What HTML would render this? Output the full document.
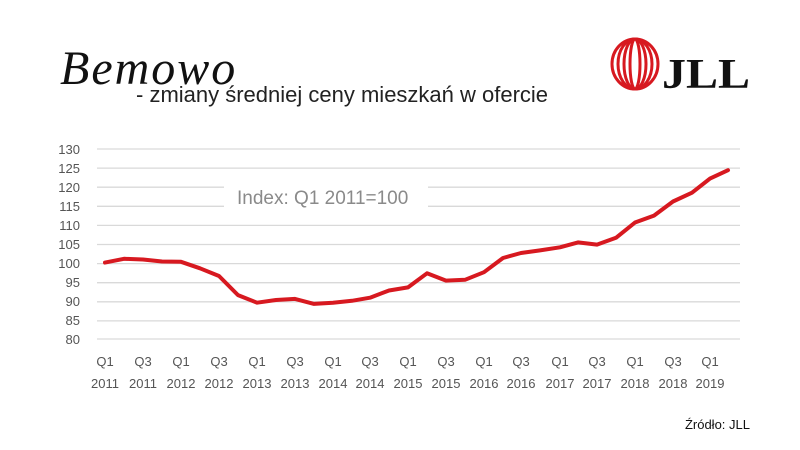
<!DOCTYPE html>
<html><head><meta charset="utf-8"><style>
html,body{margin:0;padding:0;background:#fff;width:800px;height:450px;overflow:hidden}
</style></head><body>
<svg width="800" height="450" xmlns="http://www.w3.org/2000/svg" font-family="Liberation Sans, sans-serif">
<text x="60" y="84" font-family="Liberation Serif, serif" font-style="italic" font-size="48" fill="#111" letter-spacing="2">Bemowo</text>
<text x="136" y="102" font-size="22" fill="#222">- zmiany średniej ceny mieszkań w ofercie</text>
<g fill="none" stroke="#d71920" stroke-width="3">
<ellipse cx="635" cy="64" rx="23" ry="25"/>
<ellipse cx="635" cy="64" rx="17" ry="25"/>
<ellipse cx="635" cy="64" rx="11" ry="25"/>
<ellipse cx="635" cy="64" rx="5" ry="25"/>
</g>
<text x="662" y="88" font-family="Liberation Serif, serif" font-weight="bold" font-size="42" fill="#111" textLength="88" lengthAdjust="spacingAndGlyphs">JLL</text>
<g stroke="#d9d9d9" stroke-width="1.3">
<line x1="97" x2="740" y1="149" y2="149"/><line x1="97" x2="740" y1="168.1" y2="168.1"/>
<line x1="97" x2="224" y1="187.2" y2="187.2"/><line x1="428" x2="740" y1="187.2" y2="187.2"/>
<line x1="97" x2="224" y1="206.3" y2="206.3"/><line x1="428" x2="740" y1="206.3" y2="206.3"/>
<line x1="97" x2="740" y1="225.4" y2="225.4"/><line x1="97" x2="740" y1="244.5" y2="244.5"/>
<line x1="97" x2="740" y1="263.6" y2="263.6"/><line x1="97" x2="740" y1="282.7" y2="282.7"/>
<line x1="97" x2="740" y1="301.8" y2="301.8"/><line x1="97" x2="740" y1="320.9" y2="320.9"/>
<line x1="97" x2="740" y1="339" y2="339"/>
</g>
<g font-size="13" fill="#555" text-anchor="end">
<text x="80" y="154">130</text><text x="80" y="173">125</text><text x="80" y="192">120</text>
<text x="80" y="211">115</text><text x="80" y="230">110</text><text x="80" y="249">105</text>
<text x="80" y="268">100</text><text x="80" y="287">95</text><text x="80" y="306">90</text>
<text x="80" y="325">85</text><text x="80" y="344">80</text>
</g>
<text x="237" y="204" font-size="19" fill="#8a8a8a">Index: Q1 2011=100</text>
<polyline fill="none" stroke="#d71920" stroke-width="4" stroke-linejoin="round" stroke-linecap="round"
points="105,262.6 124,258.8 143,259.5 162,261.5 181,261.8 200,268.3 219,276 238,295.1 257,302.7 276,300 295,298.9 314,303.9 333,302.7 352,300.8 370,297.7 389,290.5 408,287.4 427,273.3 446,280.6 465,279.8 484,272.2 503,258 521,253 540,250.4 560,247.3 578,242.4 597,244.6 616,237.8 635,222.5 654,215.6 673,201.5 692,192.7 710,178.6 728,170.2"/>
<g font-size="13" fill="#555" text-anchor="middle">
<text x="105" y="366">Q1</text><text x="105" y="388">2011</text>
<text x="143" y="366">Q3</text><text x="143" y="388">2011</text>
<text x="181" y="366">Q1</text><text x="181" y="388">2012</text>
<text x="219" y="366">Q3</text><text x="219" y="388">2012</text>
<text x="257" y="366">Q1</text><text x="257" y="388">2013</text>
<text x="295" y="366">Q3</text><text x="295" y="388">2013</text>
<text x="333" y="366">Q1</text><text x="333" y="388">2014</text>
<text x="370" y="366">Q3</text><text x="370" y="388">2014</text>
<text x="408" y="366">Q1</text><text x="408" y="388">2015</text>
<text x="446" y="366">Q3</text><text x="446" y="388">2015</text>
<text x="484" y="366">Q1</text><text x="484" y="388">2016</text>
<text x="521" y="366">Q3</text><text x="521" y="388">2016</text>
<text x="560" y="366">Q1</text><text x="560" y="388">2017</text>
<text x="597" y="366">Q3</text><text x="597" y="388">2017</text>
<text x="635" y="366">Q1</text><text x="635" y="388">2018</text>
<text x="673" y="366">Q3</text><text x="673" y="388">2018</text>
<text x="710" y="366">Q1</text><text x="710" y="388">2019</text>
</g>
<text x="750" y="429" font-size="13" fill="#111" text-anchor="end">Źródło: JLL</text>
</svg>
</body></html>
